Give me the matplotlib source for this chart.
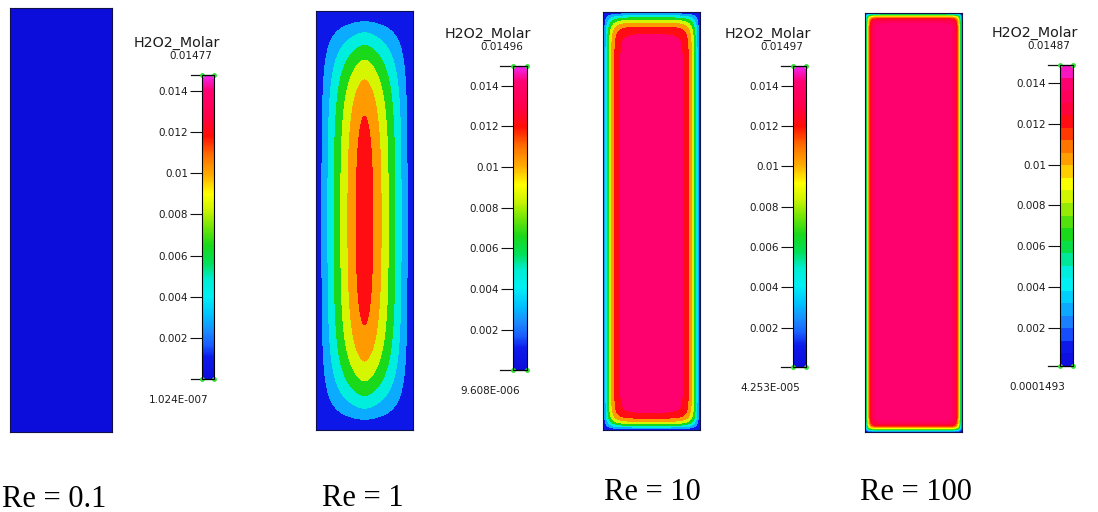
import numpy as np
import matplotlib
matplotlib.use("Agg")
import matplotlib.pyplot as plt
from matplotlib.colors import LinearSegmentedColormap, Normalize
from matplotlib.cm import ScalarMappable

# H2O2 molar concentration in the channel for four Reynolds numbers
re_labels = ['Re = 0.1', 'Re = 1', 'Re = 10', 'Re = 100']
c_min = [1.024e-7, 9.608e-6, 4.253e-5, 1.493e-4]
c_max = [0.01477, 0.01496, 0.01497, 0.01487]
min_labels = ['1.024E-007', '9.608E-006', '4.253E-005', '0.0001493']
max_labels = ['0.01477', '0.01496', '0.01497', '0.01487']
core_conc = [1.024e-7, 0.0124, 0.0142, 0.0139]      # concentration in the core
side_layer = [1.0, 0.75, 0.124, 0.05]               # layer thickness at side walls (channel widths)
top_layer = [1.0, 0.72, 0.144, 0.048]
bottom_layer = [1.0, 0.72, 0.113, 0.052]
n_bands = [8, 8, 8, 24]
tick_values = [0.002, 0.004, 0.006, 0.008, 0.01, 0.012, 0.014]

W, H = 1098, 512
fig = plt.figure(figsize=(W / 100, H / 100), dpi=100)

cmap = LinearSegmentedColormap.from_list('fluent', [
    (0.00, (0.05, 0.05, 0.86)),
    (0.07, (0.05, 0.10, 0.92)),
    (0.11, (0.10, 0.36, 1.00)),
    (0.16, (0.10, 0.56, 1.00)),
    (0.21, (0.00, 0.76, 1.00)),
    (0.27, (0.00, 0.94, 0.96)),
    (0.33, (0.00, 0.93, 0.82)),
    (0.38, (0.00, 0.88, 0.35)),
    (0.44, (0.10, 0.85, 0.10)),
    (0.50, (0.45, 0.90, 0.03)),
    (0.56, (0.82, 0.96, 0.00)),
    (0.61, (1.00, 1.00, 0.00)),
    (0.67, (1.00, 0.68, 0.00)),
    (0.74, (1.00, 0.42, 0.00)),
    (0.80, (1.00, 0.06, 0.02)),
    (0.87, (1.00, 0.00, 0.30)),
    (0.95, (1.00, 0.00, 0.45)),
    (1.00, (0.95, 0.15, 0.95)),
])


def px_axes(x0, y0, x1, y1):
    return fig.add_axes([x0 / W, 1 - y1 / H, (x1 - x0) / W, (y1 - y0) / H])


field_boxes = [(10, 8, 112, 432), (316, 11, 413, 430), (603, 12, 700, 430), (865, 13, 962, 432)]
bar_boxes = [(202, 75, 214, 379), (513, 66, 527, 370), (793, 66, 806, 367), (1060, 65, 1073, 366)]
re_pos = [(2, 507), (322, 506), (604, 500), (860, 500)]

# channel cross-section: width 1, height 4.3
half = 0.5
length = 4.3
x = np.linspace(-half, half, 300)
y = np.linspace(0, length, 1000)
X, Y = np.meshgrid(x, y)
eps = 0.05
ax_dist = (np.sqrt(X ** 2 + eps ** 2) - eps) * half / (np.sqrt(half ** 2 + eps ** 2) - eps)
s_side = half - ax_dist
s_top = length - Y
s_bot = Y

text_col = '#1c1c1c'

for i in range(4):
    lo, hi = c_min[i], c_max[i]
    norm = Normalize(vmin=lo, vmax=hi)
    fx = np.tanh(s_side / side_layer[i]) / np.tanh(half / side_layer[i])
    fy = np.tanh(s_top / top_layer[i]) * np.tanh(s_bot / bottom_layer[i])
    conc = lo + (core_conc[i] - lo) * fx * fy

    ax = px_axes(*field_boxes[i])
    if core_conc[i] - lo < 1e-6:
        ax.pcolormesh(X, Y, conc, cmap=cmap, norm=norm, shading='auto')
    else:
        levels = np.linspace(lo, hi, n_bands[i] + 1)
        cs = ax.contourf(X, Y, conc, levels=levels, cmap=cmap, norm=norm)
    ax.set_xlim(-half, half)
    ax.set_ylim(0, length)
    ax.set_xticks([])
    ax.set_yticks([])
    for sp in ax.spines.values():
        sp.set_color('#10104a')
        sp.set_linewidth(0.8)

    # colour scale
    bx0, by0, bx1, by1 = bar_boxes[i]
    cax = px_axes(*bar_boxes[i])
    if n_bands[i] > 8:
        cb = fig.colorbar(cs, cax=cax)
    else:
        cb = fig.colorbar(ScalarMappable(norm=norm, cmap=cmap), cax=cax)
    cb.set_ticks(tick_values)
    cb.set_ticklabels([f'{v:g}' for v in tick_values])
    cb.outline.set_linewidth(0.8)
    cax.yaxis.set_ticks_position('left')
    cax.tick_params(axis='y', length=8.5, width=0.8, color='#111111',
                    labelsize=7.5, labelcolor=text_col, pad=1.5)
    for yy in (0, 1):
        cax.plot([-0.9, 1], [yy, yy], color='#111111', lw=0.9,
                 transform=cax.transAxes, clip_on=False)
        cax.plot([0, 1], [yy, yy], 'o', color='#33dd33', ms=3.5, mec='none',
                 transform=cax.transAxes, clip_on=False)

    fig.text((bx0 - 25) / W, 1 - (by0 - 32) / H, 'H2O2_Molar', ha='center', va='center',
             fontsize=10.3, color=text_col)
    fig.text((bx0 - 11) / W, 1 - (by0 - 19) / H, max_labels[i], ha='center', va='center',
             fontsize=7.5, color=text_col)
    fig.text((bx0 - 23) / W, 1 - (by1 + 21) / H, min_labels[i], ha='center', va='center',
             fontsize=7.5, color=text_col)

    fig.text(re_pos[i][0] / W, 1 - re_pos[i][1] / H, re_labels[i], ha='left', va='baseline',
             fontsize=22, family='Liberation Serif', color='black')

fig.savefig('out.png', dpi=100, facecolor='white')
